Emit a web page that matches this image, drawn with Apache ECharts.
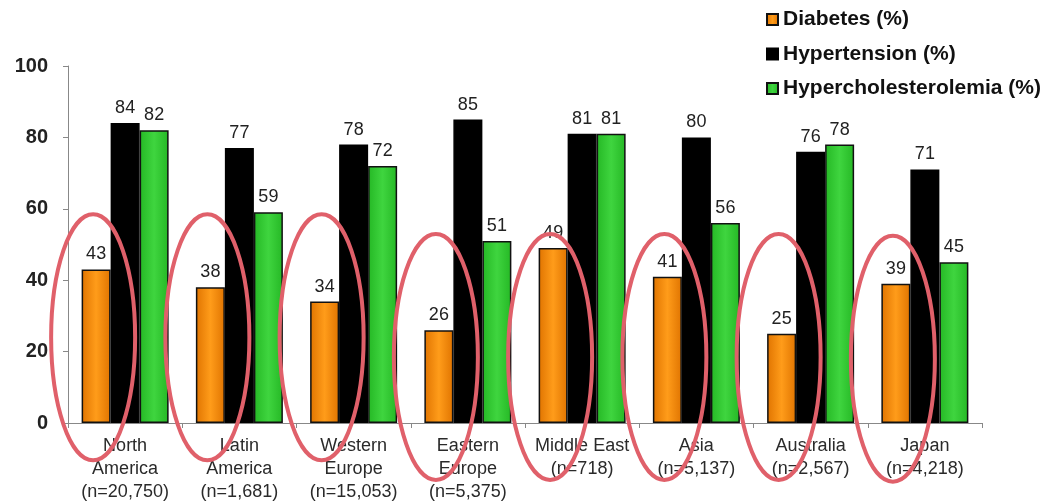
<!DOCTYPE html>
<html>
<head>
<meta charset="utf-8">
<title>Diabetes, hypertension and hypercholesterolemia by region</title>
<script src="https://cdn.jsdelivr.net/npm/echarts@6/dist/echarts.min.js"></script>
<style>
  html, body { margin: 0; padding: 0; background: #fff; }
  #chart { width: 1044px; height: 504px; }
</style>
</head>
<body>
<div id="chart"></div>
<script>
// Regions with sample sizes
const regions = [
  'North\nAmerica\n(n=20,750)',
  'Latin\nAmerica\n(n=1,681)',
  'Western\nEurope\n(n=15,053)',
  'Eastern\nEurope\n(n=5,375)',
  'Middle East\n(n=718)',
  'Asia\n(n=5,137)',
  'Australia\n(n=2,567)',
  'Japan\n(n=4,218)'
];

// Prevalence (%) per region
const diabetes = [43, 38, 34, 26, 49, 41, 25, 39];
const hypertension = [84, 77, 78, 85, 81, 80, 76, 71];
const hypercholesterolemia = [82, 59, 72, 51, 81, 56, 78, 45];

// Vertical centre (axis value) of the highlight ring around each diabetes bar
const ringCenter = [24, 24, 24, 18.5, 18.5, 18.5, 18.5, 18];

const yTicks = { min: 0, max: 100, interval: 20 };

const chart = echarts.init(document.getElementById('chart'), null, { renderer: 'canvas' });

function hGrad(edge, mid) {
  return new echarts.graphic.LinearGradient(0, 0, 1, 0, [
    { offset: 0, color: edge },
    { offset: 0.5, color: mid },
    { offset: 1, color: edge }
  ]);
}

const BAR_W = 29;

const labelStyle = {
  show: true,
  position: 'top',
  distance: 6,
  fontFamily: 'Liberation Sans, Arial, sans-serif',
  fontSize: 18,
  color: '#222'
};

chart.setOption({
  animation: false,
  backgroundColor: '#fff',
  grid: { left: 68, right: 62, top: 66, bottom: 79, containLabel: false },
  legend: {
    data: ['Diabetes (%)', 'Hypertension (%)', 'Hypercholesterolemia (%)'],
    orient: 'vertical',
    left: 761,
    top: 4,
    itemWidth: 11,
    itemHeight: 11,
    itemGap: 13.5,
    icon: 'rect',
    textStyle: {
      fontFamily: 'Liberation Sans, Arial, sans-serif',
      fontSize: 21,
      fontWeight: 'bold',
      color: '#111',
      lineHeight: 21
    }
  },
  xAxis: {
    type: 'category',
    data: regions,
    axisLine: { lineStyle: { color: '#888', width: 1 } },
    axisTick: { show: true, length: 5, lineStyle: { color: '#888' } },
    axisLabel: {
      interval: 0,
      margin: 12,
      fontFamily: 'Liberation Sans, Arial, sans-serif',
      fontSize: 18,
      lineHeight: 23,
      color: '#2a2a2a'
    }
  },
  yAxis: {
    type: 'value',
    min: yTicks.min,
    max: yTicks.max,
    interval: yTicks.interval,
    splitLine: { show: false },
    axisLine: { show: true, lineStyle: { color: '#888', width: 1 } },
    axisTick: { show: true, length: 5, lineStyle: { color: '#888' } },
    axisLabel: {
      margin: 20,
      fontFamily: 'Liberation Sans, Arial, sans-serif',
      fontSize: 20,
      fontWeight: 'bold',
      color: '#222'
    }
  },
  series: [
    {
      name: 'Diabetes (%)',
      type: 'bar',
      data: diabetes,
      barWidth: BAR_W,
      barGap: '0%',
      itemStyle: { color: hGrad('#e07400', '#ff9c1a'), borderColor: '#111', borderWidth: 1.5 },
      label: labelStyle,
      z: 2
    },
    {
      name: 'Hypertension (%)',
      type: 'bar',
      data: hypertension,
      barWidth: BAR_W,
      barGap: '0%',
      itemStyle: { color: '#000', borderColor: '#000', borderWidth: 1.5 },
      label: labelStyle,
      z: 2
    },
    {
      name: 'Hypercholesterolemia (%)',
      type: 'bar',
      data: hypercholesterolemia,
      barWidth: BAR_W,
      barGap: '0%',
      itemStyle: { color: hGrad('#25b825', '#3fd53f'), borderColor: '#111', borderWidth: 1.5 },
      label: labelStyle,
      z: 2
    },
    {
      // Red rings drawn around each diabetes bar
      name: 'ring',
      type: 'custom',
      clip: false,
      silent: true,
      z: 5,
      data: ringCenter.map((v, i) => [i, v]),
      renderItem: function (params, api) {
        const p = api.coord([api.value(0), api.value(1)]);
        const cx = p[0] - BAR_W - 3;
        return {
          type: 'ellipse',
          shape: { cx: cx, cy: p[1], rx: 42, ry: 123 },
          style: { fill: 'none', stroke: '#e0606a', lineWidth: 4 }
        };
      }
    }
  ]
});
</script>
</body>
</html>
